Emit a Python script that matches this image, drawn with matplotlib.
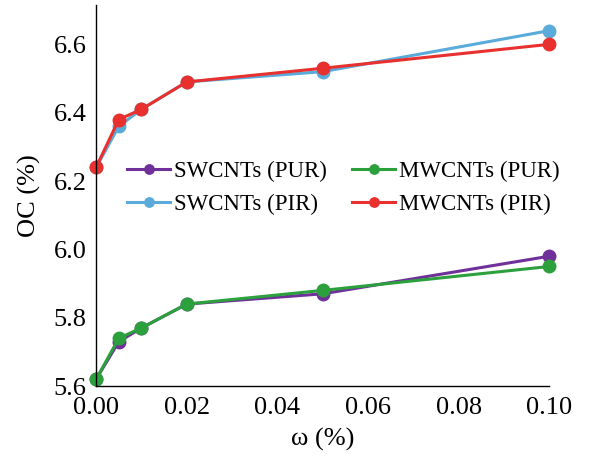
import matplotlib
matplotlib.use("Agg")
import matplotlib.pyplot as plt

x = [0.0, 0.005, 0.01, 0.02, 0.05, 0.10]
sw_pur = [5.62, 5.73, 5.77, 5.84, 5.87, 5.98]
mw_pur = [5.62, 5.74, 5.77, 5.84, 5.88, 5.95]
sw_pir = [6.24, 6.36, 6.41, 6.49, 6.52, 6.64]
mw_pir = [6.24, 6.38, 6.41, 6.49, 6.53, 6.60]

labels = ["SWCNTs (PUR)", "MWCNTs (PUR)", "SWCNTs (PIR)", "MWCNTs (PIR)"]
colors = ["#70309A", "#2CA03C", "#5AAADA", "#E8302E"]
xticks = [0.00, 0.02, 0.04, 0.06, 0.08, 0.10]
yticks = [5.6, 5.8, 6.0, 6.2, 6.4, 6.6]

plt.rcParams['font.family'] = ['Liberation Serif', 'DejaVu Serif']
fig = plt.figure(figsize=(5.97, 4.58), dpi=100)
ax = fig.add_axes([0.161, 0.157, 0.759, 0.832])

series = [sw_pur, mw_pur, sw_pir, mw_pir]
handles = {}
for lab, col, ys in zip(labels, colors, series):
    h, = ax.plot(x, ys, color=col, lw=2.2, marker='o', ms=9, clip_on=False, label=lab)
    handles[lab] = h

order = ["SWCNTs (PUR)", "SWCNTs (PIR)", "MWCNTs (PUR)", "MWCNTs (PIR)"]
ax.legend([handles[k] for k in order], order, ncol=2, frameon=False,
          loc='center', bbox_to_anchor=(0.545, 0.52), fontsize=16.5,
          handlelength=1.9, handletextpad=0.15, columnspacing=1.1, labelspacing=0.5,
          markerscale=0.75)

ax.set_xlim(0, 0.10)
ax.set_ylim(5.6, 6.715)
ax.set_xticks(xticks)
ax.set_xticklabels([f"{v:.2f}" for v in xticks])
ax.set_yticks(yticks)
ax.set_yticklabels([f"{v:.1f}" for v in yticks])
ax.tick_params(length=0, labelsize=19)
ax.tick_params(axis='x', pad=8)
ax.tick_params(axis='y', pad=7)
for s in ['top', 'right']:
    ax.spines[s].set_visible(False)
for s in ['left', 'bottom']:
    ax.spines[s].set_linewidth(1.0)
ax.set_xlabel("ω (%)", fontsize=19, labelpad=6)
ax.set_ylabel("OC (%)", fontsize=19, labelpad=9)

fig.savefig("out.png", dpi=100)
